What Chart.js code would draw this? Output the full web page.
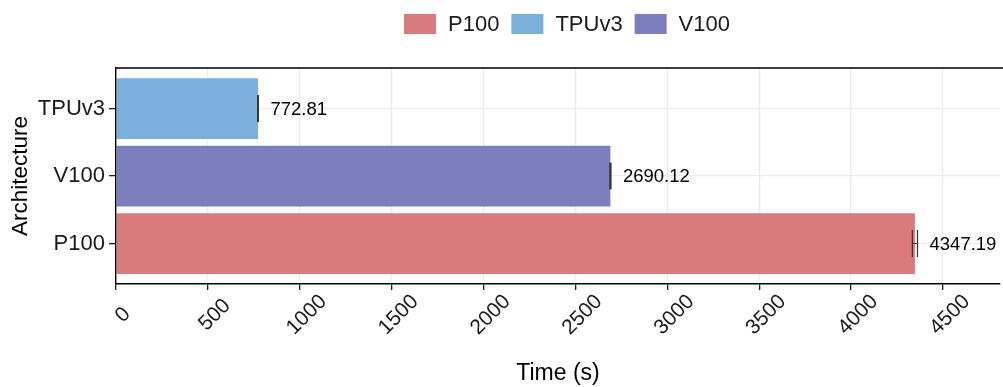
<!DOCTYPE html>
<html>
<head>
<meta charset="utf-8">
<script src="https://cdn.jsdelivr.net/npm/chart.js@4"></script>
<style>
  html, body { margin: 0; padding: 0; background: #fff; }
</style>
</head>
<body>
<canvas id="archChart" width="1003" height="387"></canvas>
<script>
// categories top to bottom
const categories = ["TPUv3", "V100", "P100"];
const times = [772.81, 2690.12, 4347.19];
const errors = [2, 3, 14];
// legend order (alphabetical, as in the original)
const legendOrder = ["P100", "TPUv3", "V100"];
const barColors = { P100: "#D97A7D", TPUv3: "#7AAFDC", V100: "#7B7FBE" };
const xTicks = [0, 500, 1000, 1500, 2000, 2500, 3000, 3500, 4000, 4500];

const FONT = "'Liberation Sans', Arial, Helvetica, sans-serif";
Chart.defaults.font.family = FONT;
Chart.defaults.color = "#1a1a1a";

const datasets = legendOrder.map((name) => {
  const i = categories.indexOf(name);
  return {
    label: name,
    data: [{ x: times[i], y: i }],
    backgroundColor: barColors[name],
    borderWidth: 0,
    grouped: false,
    barPercentage: 0.9,
    categoryPercentage: 1.0,
  };
});

// legend, error bars, value labels, x tick labels (rotated, centred) and the top frame line
const decorations = {
  id: "decorations",
  afterDatasetsDraw(chart) {
    const ctx = chart.ctx;
    const xs = chart.scales.x;
    const ys = chart.scales.y;
    const half = Math.abs(ys.getPixelForValue(0.2) - ys.getPixelForValue(0));
    ctx.save();
    categories.forEach((cat, i) => {
      const yc = ys.getPixelForValue(i);
      const lo = xs.getPixelForValue(times[i] - errors[i]);
      const hi = xs.getPixelForValue(times[i] + errors[i]);
      ctx.strokeStyle = "#333333";
      ctx.lineWidth = 1.2;
      ctx.beginPath();
      ctx.moveTo(lo, yc - half); ctx.lineTo(lo, yc + half);
      ctx.moveTo(hi, yc - half); ctx.lineTo(hi, yc + half);
      ctx.moveTo(lo, yc); ctx.lineTo(hi, yc);
      ctx.stroke();
      ctx.fillStyle = "#000";
      ctx.font = "18.5px " + FONT;
      ctx.textAlign = "left";
      ctx.textBaseline = "middle";
      ctx.fillText(times[i].toFixed(2), hi + 12, yc + 1);
    });
    ctx.restore();
  },
  afterDraw(chart) {
    const ctx = chart.ctx;
    const xs = chart.scales.x;
    const a = chart.chartArea;
    ctx.save();
    // top frame line
    ctx.strokeStyle = "#000";
    ctx.lineWidth = 1.4;
    ctx.beginPath();
    ctx.moveTo(a.left - 0.7, a.top);
    ctx.lineTo(chart.width, a.top);
    ctx.stroke();
    // x tick labels
    ctx.fillStyle = "#1a1a1a";
    ctx.font = "21px " + FONT;
    ctx.textAlign = "center";
    ctx.textBaseline = "middle";
    xTicks.forEach((v) => {
      ctx.save();
      ctx.translate(xs.getPixelForValue(v) + 7, a.bottom + 31);
      ctx.rotate(-Math.PI / 4);
      ctx.fillText(String(v), 0, 0);
      ctx.restore();
    });
    // legend
    ctx.font = "22px " + FONT;
    ctx.textAlign = "left";
    const boxW = 32, boxH = 20, gap = 12, pad = 12;
    const widths = legendOrder.map((n) => boxW + gap + ctx.measureText(n).width);
    const total = widths.reduce((s, w) => s + w, 0) + pad * (widths.length - 1);
    let x = 567 - total / 2;
    legendOrder.forEach((n, k) => {
      ctx.fillStyle = barColors[n];
      ctx.fillRect(x, 14, boxW, boxH);
      ctx.fillStyle = "#1a1a1a";
      ctx.fillText(n, x + boxW + gap, 25);
      x += widths[k] + pad;
    });
    ctx.restore();
  },
};

new Chart(document.getElementById("archChart").getContext("2d"), {
  type: "bar",
  data: { datasets },
  options: {
    indexAxis: "y",
    responsive: false,
    animation: false,
    layout: { padding: { top: 68, left: 4, right: 3, bottom: 0 } },
    plugins: {
      legend: { display: false },
      tooltip: { enabled: false },
    },
    scales: {
      x: {
        type: "linear",
        min: 0,
        max: 4810,
        afterBuildTicks: (scale) => {
          scale.ticks = xTicks.map((v) => ({ value: v }));
        },
        afterFit: (scale) => { scale.height = 103; },
        ticks: { display: false },
        grid: {
          color: "#EBEBEB",
          lineWidth: 1.3,
          tickColor: "#1a1a1a",
          tickLength: 6,
        },
        border: { color: "#000", width: 1.4, z: 1 },
        title: {
          display: true,
          text: "Time (s)",
          color: "#000",
          font: { size: 23 },
          padding: { top: 0, bottom: 0 },
        },
      },
      y: {
        type: "linear",
        offset: false,
        min: -0.6,
        max: 2.6,
        reverse: true,
        afterBuildTicks: (scale) => {
          scale.ticks = categories.map((c, i) => ({ value: i }));
        },
        afterFit: (scale) => { scale.width = 112; },
        ticks: {
          padding: 4,
          color: "#1a1a1a",
          font: { size: 22 },
          callback: (v) => categories[v],
        },
        grid: {
          offset: false,
          color: "#EBEBEB",
          lineWidth: 1.3,
          tickColor: "#1a1a1a",
          tickLength: 7,
        },
        border: { color: "#000", width: 1.4, z: 1 },
        title: {
          display: true,
          text: "Architecture",
          color: "#000",
          font: { size: 22.5 },
          padding: { top: 3, bottom: 0 },
        },
      },
    },
  },
  plugins: [decorations],
});
</script>
</body>
</html>
